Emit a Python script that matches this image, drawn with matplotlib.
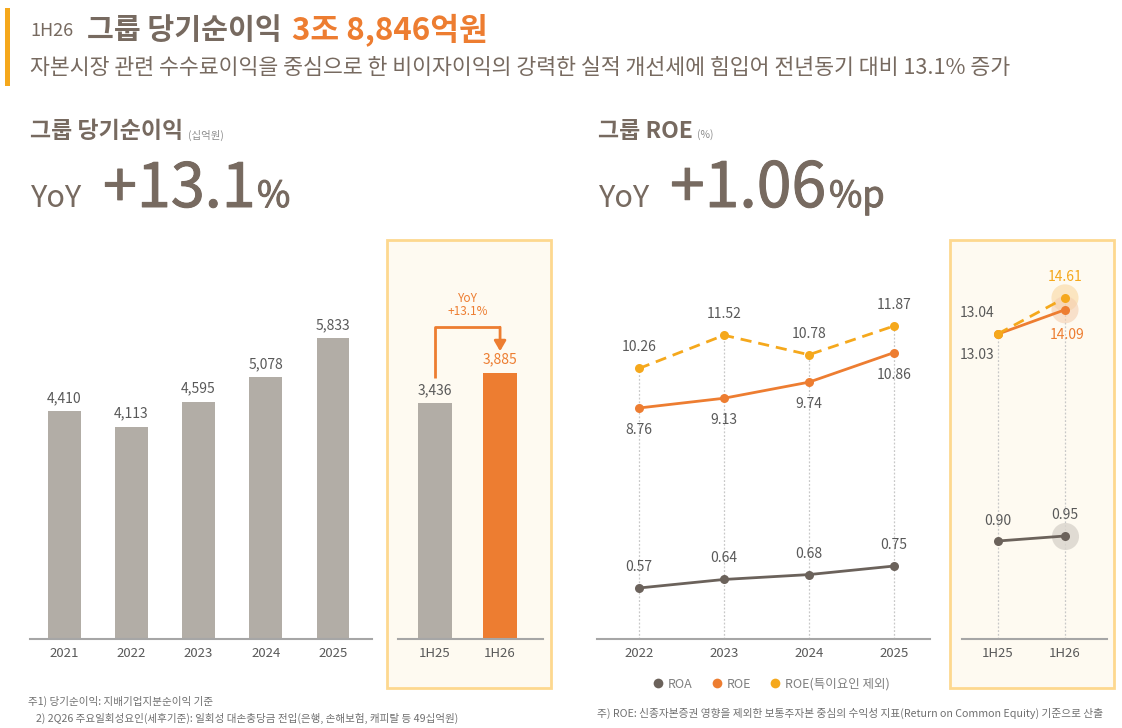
import matplotlib as mpl
mpl.use('Agg')
import matplotlib.pyplot as plt
import matplotlib.patheffects as pe
from matplotlib.lines import Line2D

plt.rcParams['font.family'] = ['Noto Sans CJK KR', 'DejaVu Sans']

# ---- data
years = ['2021', '2022', '2023', '2024', '2025']
net_income = [4410, 4113, 4595, 5078, 5833]
halves = ['1H25', '1H26']
net_income_h = [3436, 3885]

roe_years = ['2022', '2023', '2024', '2025']
roa = [0.57, 0.64, 0.68, 0.75]
roe = [8.76, 9.13, 9.74, 10.86]
roe_adj = [10.26, 11.52, 10.78, 11.87]
roa_h = [0.90, 0.95]
roe_h = [13.03, 14.09]
roe_adj_h = [13.04, 14.61]

# ---- colors
C_TXT = '#776a60'
C_LBL = '#595959'
C_GRAY = '#b2ada6'
C_ORG = '#ed7d31'
C_YEL = '#f5a81c'
C_ROA = '#6b625b'
C_BASE = '#a6a6a6'
C_NOTE = '#707070'

W, H = 1122, 728
fig = plt.figure(figsize=(W/100, H/100), dpi=100)


def fx(x): return x/W
def fy(y): return 1 - y/H


def add_ax(x0, y0, x1, y1):
    ax = fig.add_axes([x0/W, 1-y1/H, (x1-x0)/W, (y1-y0)/H])
    ax.set_facecolor('none')
    return ax


def ftext(x, y, s, **kw):
    fig.text(fx(x), fy(y), s, **kw)


# slightly thicker strokes for the big YoY numbers (medium weight look)
thick = [pe.withStroke(linewidth=0.7, foreground=C_TXT)]

# ---- header
fig.add_artist(mpl.patches.Rectangle((fx(5), fy(86)), fx(5), 78/H,
               transform=fig.transFigure, color=C_YEL, lw=0))
ftext(30, 36, '1H26', fontsize=13, color=C_TXT, va='baseline')
ftext(87, 39, '그룹 당기순이익', fontsize=21, color=C_TXT, va='baseline', weight='bold')
ftext(292, 39, '3조 8,846억원', fontsize=22.5, color=C_ORG, va='baseline', weight='bold')
ftext(30, 68, '자본시장 관련 수수료이익을 중심으로 한 비이자이익의 강력한 실적 개선세에 '
      '힘입어 전년동기 대비 13.1% 증가', fontsize=15.6, color=C_TXT, va='center')

# ---- section titles
ftext(30, 132, '그룹 당기순이익', fontsize=16.5, color=C_TXT, va='center', weight='bold')
ftext(188, 135, '(십억원)', fontsize=7.5, color='#8c8c8c', va='center')
ftext(31, 207, 'YoY', fontsize=22, color=C_TXT, va='baseline')
ftext(103, 207, '+13.1', fontsize=44, color=C_TXT, va='baseline', path_effects=thick)
ftext(257, 207, '%', fontsize=26, color=C_TXT, va='baseline', path_effects=thick)

ftext(598, 132, '그룹 ROE', fontsize=16.5, color=C_TXT, va='center', weight='bold')
ftext(697, 135, '(%)', fontsize=7.5, color='#8c8c8c', va='center')
ftext(599, 207, 'YoY', fontsize=22, color=C_TXT, va='baseline')
ftext(670, 207, '+1.06', fontsize=45, color=C_TXT, va='baseline', path_effects=thick)
ftext(829, 207, '%p', fontsize=26, color=C_TXT, va='baseline', path_effects=thick)

# ---- highlight boxes
for bx in (387, 950):
    fig.add_artist(mpl.patches.Rectangle(
        (fx(bx), fy(688)), 164/W, 448/H, transform=fig.transFigure,
        facecolor='#fefaf1', edgecolor='#fdd88f', lw=2, zorder=-1))


def style_base(ax, labels):
    for s in ('top', 'left', 'right'):
        ax.spines[s].set_visible(False)
    ax.spines['bottom'].set_color(C_BASE)
    ax.spines['bottom'].set_linewidth(1.5)
    ax.set_yticks([])
    ax.set_xticks(range(len(labels)))
    ax.set_xticklabels(labels, fontsize=9.5, color=C_LBL)
    ax.tick_params(axis='x', length=0, pad=6)


def val_label(ax, x, y, s, dy, color=C_LBL, dx=0, **kw):
    ax.annotate(s, (x, y), xytext=(dx, dy), textcoords='offset pixels',
                ha='center', va='center', fontsize=10, color=color, **kw)


# ---- annual net income bars
ax1 = add_ax(30, 250, 372, 639)
ax1.bar(range(len(years)), net_income, width=0.49, color=C_GRAY)
ax1.set_xlim(-0.507, 4.58)
ax1.set_ylim(0, 389*19.37)
style_base(ax1, years)
for i, v in enumerate(net_income):
    val_label(ax1, i, v, f'{v:,}', 13)

# ---- half-year bars
ax2 = add_ax(398, 250, 543, 639)
ax2.bar(range(2), net_income_h, width=0.52, color=[C_GRAY, C_ORG])
ax2.set_xlim(-0.569, 1.66)
ax2.set_ylim(0, 389*14.58)
style_base(ax2, halves)
val_label(ax2, 0, net_income_h[0], f'{net_income_h[0]:,}', 13)
val_label(ax2, 1, net_income_h[1], f'{net_income_h[1]:,}', 13, color=C_ORG)
y_top = net_income_h[1]*1.17
ax2.plot([0, 0, 1], [net_income_h[0]*1.107, y_top, y_top], color=C_ORG, lw=2,
         solid_capstyle='butt')
ax2.annotate('', xy=(1, net_income_h[1]*1.08), xytext=(1, y_top),
             arrowprops=dict(arrowstyle='-|>,head_length=0.6,head_width=0.35',
                             color=C_ORG, lw=2, shrinkA=0, shrinkB=0))
growth = (net_income_h[1]/net_income_h[0] - 1)*100
ax2.text(0.5, y_top*1.07, f'YoY\n+{growth:.1f}%', ha='center', va='center',
         fontsize=8.5, color=C_ORG, linespacing=1.0)

# ---- annual ROE / ROA
ax3 = add_ax(597, 250, 930, 639)
xs = range(len(roe_years))
ax3.set_xlim(-0.494, 3.424)
ax3.set_ylim(0, 389/26.37)
ax3.vlines(xs, 0, roe_adj, colors='#c8c8c8', linestyles=(0, (1.5, 1.5)), lw=0.9)
ax3.plot(xs, roe_adj, color=C_YEL, lw=2, ls=(0, (4, 2.5)), marker='o', ms=6.5,
         mew=0)
ax3.plot(xs, roe, color=C_ORG, lw=2, marker='o', ms=6.5, mew=0)
style_base(ax3, roe_years)
ax3b = ax3.twinx()
ax3b.set_ylim(0.152, 0.152 + 389/122)
ax3b.plot(xs, roa, color=C_ROA, lw=2, marker='o', ms=6.5, mew=0)
ax3b.axis('off')
for i in xs:
    val_label(ax3, i, roe_adj[i], f'{roe_adj[i]:.2f}', 21)
    val_label(ax3, i, roe[i], f'{roe[i]:.2f}', -22)
    val_label(ax3b, i, roa[i], f'{roa[i]:.2f}', 21)

# ---- half-year ROE / ROA
ax4 = add_ax(962, 250, 1107, 639)
ax4.set_xlim(-0.537, 1.627)
ax4.set_ylim(-0.284, 16.70)
ax4.vlines(range(2), -0.284, roe_adj_h, colors='#c8c8c8',
           linestyles=(0, (1.5, 1.5)), lw=0.9)
ax4.scatter([1, 1], [roe_adj_h[1], roe_h[1]], s=380,
            color=['#f9d7a0', '#f5cfb0'], alpha=0.6, lw=0, zorder=2)
ax4.plot(range(2), roe_h, color=C_ORG, lw=2, marker='o', ms=6.5, mew=0, zorder=3)
ax4.plot(range(2), roe_adj_h, color=C_YEL, lw=2, ls=(0, (4, 2.5)), marker='o',
         ms=6.5, mew=0, zorder=4)
style_base(ax4, halves)
ax4b = ax4.twinx()
ax4b.set_ylim(-0.08, -0.08 + 3.89)
ax4b.scatter([1], [roa_h[1]], s=380, color='#d9d4cc', alpha=0.8, lw=0, zorder=2)
ax4b.plot(range(2), roa_h, color=C_ROA, lw=2, marker='o', ms=6.5, mew=0, zorder=3)
ax4b.axis('off')
val_label(ax4, 0, roe_adj_h[0], f'{roe_adj_h[0]:.2f}', 21, dx=-21)
val_label(ax4, 0, roe_h[0], f'{roe_h[0]:.2f}', -21, dx=-21)
val_label(ax4, 1, roe_adj_h[1], f'{roe_adj_h[1]:.2f}', 21, color=C_YEL)
val_label(ax4, 1, roe_h[1], f'{roe_h[1]:.2f}', -25, dx=2, color=C_ORG)
val_label(ax4b, 0, roa_h[0], f'{roa_h[0]:.2f}', 20)
val_label(ax4b, 1, roa_h[1], f'{roa_h[1]:.2f}', 21)

# ---- legend
handles = [Line2D([], [], ls='', marker='o', ms=7, mew=0, color=c)
           for c in (C_ROA, C_ORG, C_YEL)]
fig.legend(handles, ['ROA', 'ROE', 'ROE(특이요인 제외)'], loc='center',
           bbox_to_anchor=(fx(770), fy(684)), ncol=3, frameon=False,
           fontsize=9, labelcolor='#808080', handletextpad=0.2,
           columnspacing=1.3, handlelength=1.2)

# ---- footnotes
ftext(28, 701, '주1) 당기순이익: 지배기업지분순이익 기준', fontsize=7.6, color=C_NOTE,
      va='center')
ftext(36, 718, '2) 2Q26 주요일회성요인(세후기준): 일회성 대손충당금 전입(은행, 손해보험, '
      '캐피탈 등 49십억원)', fontsize=7.6, color=C_NOTE, va='center')
ftext(597, 713, '주) ROE: 신종자본증권 영향을 제외한 보통주자본 중심의 수익성 지표'
      '(Return on Common Equity) 기준으로 산출', fontsize=7.7, color=C_NOTE,
      va='center')

fig.savefig('out.png', dpi=100, facecolor='white')
